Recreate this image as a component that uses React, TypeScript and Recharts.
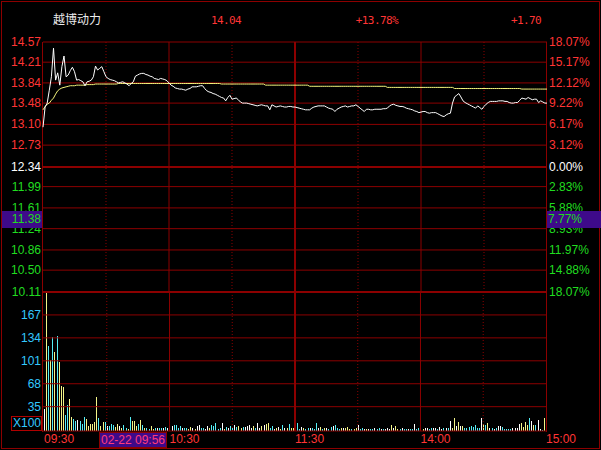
import { ComposedChart, Line, Bar, Cell, XAxis, YAxis, ReferenceLine } from "recharts";

// 越博动力 intraday, 241 minutes (09:30-11:30, 13:01-15:00)
const prevClose = 12.34;

const price = [
  13.05, 13.41, 13.48, 13.71, 13.95, 14.46, 13.89, 14.02, 13.8, 14.13,
  14.32, 13.95, 13.98, 14.06, 14.12, 14.04, 13.89, 13.9, 13.88, 13.86,
  13.79, 13.86, 13.87, 13.89, 13.95, 14.14, 14.07, 14.1, 14.13, 14.04,
  13.95, 13.92, 13.9, 13.89, 13.88, 13.86, 13.84, 13.85, 13.86, 13.84,
  13.82, 13.79, 13.83, 13.86, 13.96, 13.98, 14.0, 14.01, 14.01, 13.99,
  13.98, 13.96, 13.95, 13.92, 13.91, 13.9, 13.92, 13.91, 13.9, 13.88,
  13.84, 13.8, 13.78, 13.75, 13.74, 13.73, 13.73, 13.72, 13.71, 13.73,
  13.74, 13.77, 13.77, 13.77, 13.78, 13.79, 13.79, 13.74, 13.7, 13.68,
  13.67, 13.65, 13.64, 13.62, 13.6, 13.58, 13.57, 13.52, 13.58, 13.62,
  13.55, 13.56, 13.57, 13.54, 13.5, 13.48, 13.48, 13.48, 13.47, 13.46,
  13.45, 13.44, 13.43, 13.44, 13.45, 13.44, 13.43, 13.43, 13.36, 13.45,
  13.43, 13.41, 13.42, 13.43, 13.42, 13.41, 13.41, 13.42, 13.42, 13.41,
  13.41, 13.4, 13.39, 13.38, 13.37, 13.36, 13.36, 13.36, 13.39, 13.41,
  13.42, 13.43, 13.43, 13.43, 13.43, 13.41, 13.39, 13.38, 13.37, 13.33,
  13.37, 13.39, 13.41, 13.42, 13.43, 13.41, 13.42, 13.43, 13.43, 13.45,
  13.42, 13.39, 13.36, 13.33, 13.37, 13.37, 13.36, 13.36, 13.37, 13.37,
  13.37, 13.37, 13.38, 13.38, 13.39, 13.43, 13.45, 13.46, 13.44, 13.43,
  13.42, 13.42, 13.41, 13.39, 13.38, 13.37, 13.36, 13.34, 13.33, 13.31,
  13.32, 13.33, 13.33, 13.31, 13.3, 13.31, 13.31, 13.31, 13.29, 13.27,
  13.25, 13.24, 13.27, 13.29, 13.3, 13.48, 13.59, 13.62, 13.65, 13.59,
  13.52, 13.49, 13.47, 13.45, 13.43, 13.41, 13.39, 13.43, 13.4, 13.37,
  13.42, 13.46, 13.49, 13.51, 13.51, 13.51, 13.51, 13.52, 13.52, 13.52,
  13.51, 13.51, 13.49, 13.48, 13.48, 13.49, 13.49, 13.53, 13.57, 13.56,
  13.55, 13.58, 13.56, 13.54, 13.55, 13.55, 13.49, 13.52, 13.5, 13.48,
  13.48,
];

const avgPrice = [
  13.36, 13.42, 13.46, 13.48, 13.53, 13.57, 13.64, 13.7, 13.73, 13.75,
  13.76, 13.77, 13.78, 13.79, 13.79, 13.79, 13.8, 13.8, 13.8, 13.8,
  13.8, 13.81, 13.81, 13.81, 13.81, 13.82, 13.82, 13.82, 13.82, 13.82,
  13.82, 13.82, 13.82, 13.82, 13.82, 13.82, 13.83, 13.83, 13.83, 13.83,
  13.83, 13.83, 13.83, 13.83, 13.83, 13.83, 13.83, 13.83, 13.83, 13.83,
  13.83, 13.83, 13.83, 13.83, 13.83, 13.83, 13.83, 13.83, 13.83, 13.83,
  13.83, 13.83, 13.83, 13.83, 13.83, 13.83, 13.83, 13.83, 13.83, 13.83,
  13.83, 13.83, 13.83, 13.83, 13.83, 13.83, 13.83, 13.83, 13.83, 13.83,
  13.83, 13.83, 13.83, 13.83, 13.83, 13.82, 13.82, 13.82, 13.82, 13.82,
  13.82, 13.82, 13.82, 13.82, 13.82, 13.82, 13.82, 13.82, 13.82, 13.82,
  13.82, 13.82, 13.82, 13.82, 13.82, 13.82, 13.8, 13.8, 13.8, 13.8,
  13.8, 13.8, 13.8, 13.8, 13.8, 13.8, 13.8, 13.8, 13.8, 13.8,
  13.8, 13.8, 13.8, 13.8, 13.8, 13.8, 13.8, 13.78, 13.78, 13.78,
  13.78, 13.78, 13.78, 13.78, 13.78, 13.78, 13.78, 13.78, 13.78, 13.78,
  13.78, 13.78, 13.78, 13.78, 13.78, 13.78, 13.78, 13.78, 13.78, 13.78,
  13.78, 13.78, 13.78, 13.78, 13.78, 13.78, 13.78, 13.78, 13.78, 13.78,
  13.78, 13.78, 13.78, 13.78, 13.76, 13.76, 13.76, 13.76, 13.76, 13.76,
  13.76, 13.76, 13.76, 13.76, 13.76, 13.76, 13.76, 13.76, 13.76, 13.76,
  13.76, 13.76, 13.76, 13.76, 13.76, 13.76, 13.76, 13.76, 13.76, 13.76,
  13.76, 13.76, 13.76, 13.76, 13.76, 13.76, 13.74, 13.74, 13.74, 13.74,
  13.74, 13.74, 13.74, 13.74, 13.74, 13.74, 13.74, 13.74, 13.74, 13.74,
  13.74, 13.74, 13.74, 13.74, 13.74, 13.74, 13.74, 13.74, 13.74, 13.74,
  13.74, 13.74, 13.74, 13.74, 13.74, 13.74, 13.74, 13.74, 13.73, 13.73,
  13.73, 13.73, 13.73, 13.73, 13.73, 13.73, 13.73, 13.73, 13.73, 13.73,
  13.73,
];

// volume in lots x100
const volume = [
  32, 198, 123, 102, 135, 113, 136, 100, 65, 63,
  23, 37, 46, 20, 17, 14, 16, 14, 10, 20,
  17, 7, 10, 10, 13, 49, 19, 7, 13, 13,
  7, 7, 10, 8, 6, 10, 7, 4, 8, 4,
  3, 20, 14, 14, 7, 10, 16, 8, 4, 4,
  3, 7, 3, 4, 4, 4, 4, 4, 6, 4,
  7, 7, 8, 9, 4, 7, 5, 4, 5, 3,
  6, 4, 3, 7, 9, 5, 5, 3, 7, 5,
  8, 7, 11, 3, 5, 11, 3, 6, 5, 7,
  5, 8, 6, 7, 4, 6, 6, 7, 8, 5,
  7, 4, 12, 4, 7, 8, 10, 12, 4, 7,
  3, 5, 6, 3, 8, 4, 5, 10, 4, 5,
  5, 12, 3, 6, 4, 3, 5, 5, 4, 3,
  12, 4, 6, 3, 4, 5, 3, 6, 7, 9,
  5, 3, 4, 5, 4, 6, 3, 3, 3, 5,
  9, 3, 4, 3, 3, 3, 3, 3, 4, 3,
  4, 3, 3, 3, 4, 3, 9, 4, 7, 3,
  3, 5, 3, 3, 3, 3, 3, 10, 3, 4,
  4, 3, 5, 5, 3, 4, 5, 5, 3, 6,
  3, 4, 4, 4, 15, 4, 18, 7, 13, 7,
  7, 4, 5, 6, 7, 6, 9, 4, 5, 18,
  10, 9, 12, 4, 5, 3, 4, 7, 7, 6,
  3, 3, 3, 3, 4, 4, 5, 10, 12, 6,
  13, 8, 19, 15, 9, 9, 16, 3, 1, 19,
  0,
];

// trade side per minute: u = up (yellow), d = down (cyan), f = flat (white)
const volSide =
  "fudududuuu" + "ddu" + "uddfddd" + "uuuuuudu" + "ud" + "fdddu" + "ufudd" +
  "udu" + "uudud" + "uddu" + "udfddfdfuf" + "ddddfddu" + "uf" + "uffddffudd" +
  "dddfudfddf" + "duudffffud" + "ffufuuddfu" + "fudfuduufd" + "dfuddfdddf" +
  "udufddfddd" + "ufuuudu" + "ufd" + "dfufddfddf" + "dfffufuudf" + "ddfddfddfu" +
  "ffddffdffd" + "fdfuufufud" + "dddddddfud" + "ufdfdffddd" + "ddffffuuuu" +
  "dfudffdufd" + "f";

const priceTicks = [14.57, 14.21, 13.84, 13.48, 13.1, 12.73, 12.34, 11.99, 11.61, 11.24, 10.86, 10.5, 10.11];
const priceLabels = ["14.57", "14.21", "13.84", "13.48", "13.10", "12.73", "12.34", "11.99", "11.61", "11.24", "10.86", "10.50", "10.11"];
const pctLabels = ["18.07%", "15.17%", "12.12%", "9.22%", "6.17%", "3.12%", "0.00%", "2.83%", "5.88%", "8.93%", "11.97%", "14.88%", "18.07%"];
const volTicks = [167, 134, 101, 68, 35];
const volLabels = ["167", "134", "101", "68", "35"];
const timeTicks = [0, 60, 120, 180, 240];
const timeLabels = ["09:30", "10:30", "11:30", "14:00", "15:00"];
const dottedMinutes = [30, 90, 150, 210];
const solidMinutes = [60, 180];
const lunchMinute = 120;

const GRID = "#8c0000";
const RED = "#ff3535";
const GREEN = "#20dd20";
const SIDE_COLOR: Record<string, string> = { u: "#f4f488", d: "#55eef5", f: "#ffffff" };
const FONT = "'Liberation Sans', Arial, sans-serif";

function levelColor(v: number) {
  if (v > prevClose) return RED;
  if (v < prevClose) return GREEN;
  return "#ffffff";
}

const PriceTick = (props: any) => {
  const { x, y, index } = props;
  return (
    <text x={x} y={y} textAnchor="end" dominantBaseline="central" fontSize={12} fontFamily={FONT}
      fill={levelColor(priceTicks[index])}>
      {priceLabels[index]}
    </text>
  );
};

// right axis shares the price scale, labelled as change vs previous close
const PctTick = (props: any) => {
  const { x, y, index } = props;
  return (
    <text x={x} y={y} textAnchor="start" dominantBaseline="central" fontSize={12} fontFamily={FONT}
      fill={levelColor(priceTicks[index])}>
      {pctLabels[index]}
    </text>
  );
};

const VolTick = (props: any) => {
  const { x, y, index } = props;
  return (
    <text x={x} y={y} textAnchor="end" dominantBaseline="central" fontSize={12} fontFamily={FONT} fill="#33c8ff">
      {volLabels[index]}
    </text>
  );
};

const TimeTick = (props: any) => {
  const { x, y, index } = props;
  return (
    <text x={x} y={y} textAnchor="start" dominantBaseline="central" fontSize={12} fontFamily={FONT} fill={RED}>
      {timeLabels[index]}
    </text>
  );
};

function verticalLines(axisId: string) {
  return [
    ...dottedMinutes.map((m) => (
      <ReferenceLine key={"d" + m} x={m} yAxisId={axisId} stroke={GRID} strokeDasharray="1 2" />
    )),
    ...solidMinutes.map((m) => <ReferenceLine key={"s" + m} x={m} yAxisId={axisId} stroke={GRID} />),
    <ReferenceLine key="lunch" x={lunchMinute} yAxisId={axisId} stroke={GRID} strokeWidth={2} />,
  ];
}

const abs = (left: number, top: number, extra: any = {}) => ({ position: "absolute" as const, left, top, ...extra });

export default function App() {
  const rows = price.map((p, i) => ({ i, price: p, avg: avgPrice[i], vol: volume[i] }));

  return (
    <div style={abs(0, 0, { width: 601, height: 450, background: "#000", overflow: "hidden", fontFamily: FONT })}>
      {/* frame */}
      <div style={abs(1, 1, { width: 599, height: 448, border: `1px solid ${GRID}`, boxSizing: "border-box" })} />
      <div style={abs(42, 42, { width: 1, height: 390, background: GRID })} />
      <div style={abs(546, 42, { width: 1, height: 390, background: GRID })} />

      {/* header */}
      <div style={abs(53, 11, { fontSize: 12, color: "#ececec", fontFamily: "'Noto Sans CJK SC', sans-serif", lineHeight: "16px" })}>越博动力</div>
      {[
        { t: "14.04", r: 241 },
        { t: "+13.78%", r: 398 },
        { t: "+1.70", r: 541 },
      ].map((h) => (
        <div key={h.t} style={abs(h.r - 80, 14, { width: 80, textAlign: "right", fontSize: 11, letterSpacing: -0.6, color: RED, fontFamily: "'DejaVu Sans Mono', monospace", lineHeight: "14px" })}>
          {h.t}
        </div>
      ))}

      {/* price panel */}
      <div style={abs(0, 0)}>
        <ComposedChart width={601} height={300} data={rows} margin={{ top: 42, right: 0, bottom: 8, left: 0 }}>
          <XAxis dataKey="i" hide />
          <YAxis yAxisId="p" width={43} domain={[10.11, 14.57]} ticks={priceTicks} interval={0}
            tick={<PriceTick />} axisLine={false} tickLine={false} tickSize={0} tickMargin={2} allowDataOverflow />
          <YAxis yAxisId="r" orientation="right" width={54} domain={[10.11, 14.57]} ticks={priceTicks} interval={0}
            tick={<PctTick />} axisLine={false} tickLine={false} tickSize={0} tickMargin={2} allowDataOverflow />
          {priceTicks.map((v) => (
            <ReferenceLine key={v} yAxisId="p" y={v} stroke={GRID}
              strokeWidth={v === prevClose || v === 10.11 ? 2 : 1} />
          ))}
          {verticalLines("p")}
          <Line yAxisId="r" dataKey="avg" type="linear" stroke="#f5f57c" strokeWidth={1} dot={false} isAnimationActive={false} />
          <Line yAxisId="p" dataKey="price" type="linear" stroke="#ffffff" strokeWidth={1} dot={false} isAnimationActive={false} />
        </ComposedChart>
      </div>

      {/* volume panel */}
      <div style={abs(0, 292)}>
        <ComposedChart width={601} height={158} data={rows} margin={{ top: 0, right: 54, bottom: 0, left: 0 }}>
          <XAxis dataKey="i" height={19} ticks={timeTicks} interval={0} tick={<TimeTick />}
            axisLine={false} tickLine={false} tickSize={0} tickMargin={8} />
          <YAxis yAxisId="v" width={43} domain={[0, 200]} ticks={volTicks} interval={0}
            tick={<VolTick />} axisLine={false} tickLine={false} tickSize={0} tickMargin={2} />
          {volTicks.map((v) => (
            <ReferenceLine key={v} yAxisId="v" y={v} stroke={GRID} />
          ))}
          <ReferenceLine yAxisId="v" y={0} stroke={GRID} />
          {verticalLines("v")}
          <Bar yAxisId="v" dataKey="vol" barSize={1} isAnimationActive={false} shapeRendering="crispEdges">
            {rows.map((r) => (
              <Cell key={r.i} fill={SIDE_COLOR[volSide[r.i]] || "#ffffff"} />
            ))}
          </Bar>
        </ComposedChart>
      </div>

      <div style={abs(11, 416, { width: 31, height: 15, border: "1px solid #b00000", boxSizing: "border-box", color: "#33c8ff", fontSize: 12, lineHeight: "13px", textAlign: "right" })}>X100</div>

      {/* crosshair labels */}
      <div style={abs(2, 211, { width: 40, height: 17, background: "#3e0a8a", color: GREEN, fontSize: 12, lineHeight: "17px", textAlign: "right", paddingRight: 1, boxSizing: "border-box" })}>11.38</div>
      <div style={abs(547, 211, { width: 54, height: 17, background: "#3e0a8a", color: GREEN, fontSize: 12, lineHeight: "17px", paddingLeft: 1, boxSizing: "border-box" })}>7.77%</div>
      <div style={abs(99, 432, { width: 68, height: 16, background: "#3e0a8a", border: `1px solid ${GRID}`, boxSizing: "border-box", color: "#ff3a7a", fontSize: 12, lineHeight: "14px", textAlign: "center" })}>02-22 09:56</div>
    </div>
  );
}
